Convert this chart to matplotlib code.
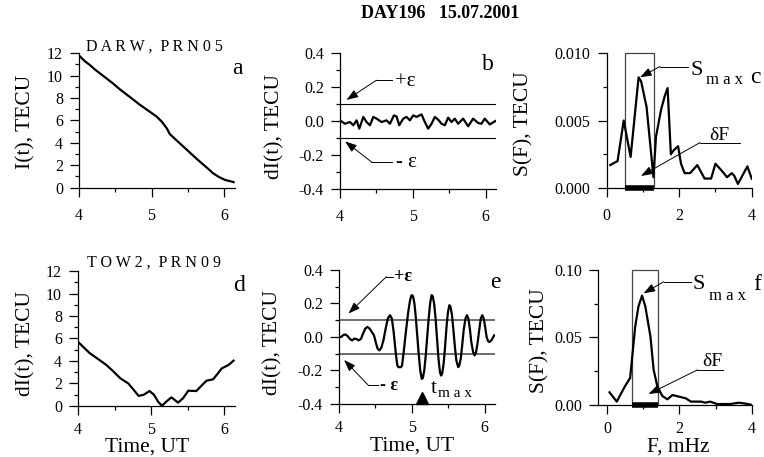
import matplotlib

matplotlib.use("Agg")

import matplotlib.pyplot as plt
from matplotlib.patches import Rectangle
from matplotlib.ticker import FixedLocator, FormatStrFormatter

plt.rcParams["font.family"] = ["Liberation Serif", "DejaVu Serif"]
plt.rcParams["axes.unicode_minus"] = False

# --- données ---
# a : TEC brut, DARW PRN05
time_a = [4.00, 4.08, 4.15, 4.22, 4.29, 4.38, 4.47, 4.56, 4.66, 4.75, 4.84,
          4.95, 5.07, 5.14, 5.21, 5.25, 5.34, 5.44, 5.55, 5.67, 5.76, 5.85,
          5.93, 6.01, 6.13]
tec_a = [11.8, 11.3, 10.95, 10.55, 10.2, 9.75, 9.3, 8.8, 8.3, 7.85, 7.4,
         6.9, 6.35, 5.9, 5.3, 4.8, 4.25, 3.66, 3.0, 2.3, 1.8, 1.28,
         0.95, 0.7, 0.5]

# b : variations filtrées DARW
time_b = [4.000, 4.068, 4.137, 4.183, 4.228, 4.265, 4.320, 4.365, 4.411, 4.457,
          4.502, 4.571, 4.639, 4.685, 4.740, 4.776, 4.813, 4.868, 4.913, 4.959,
          5.005, 5.050, 5.119, 5.164, 5.210, 5.256, 5.301, 5.347, 5.393, 5.438,
          5.484, 5.530, 5.575, 5.621, 5.689, 5.758, 5.826, 5.895, 5.941, 5.986,
          6.055, 6.132]
dtec_b = [0.004, -0.016, -0.006, -0.025, 0.004, -0.045, 0.024, -0.006, -0.025, 0.024,
          0.014, -0.006, 0.004, -0.016, 0.033, 0.027, -0.025, 0.014, 0.024, 0.004,
          0.033, 0.024, 0.039, -0.006, -0.045, -0.016, 0.024, 0.008, -0.016, -0.025,
          0.020, -0.006, 0.014, -0.016, 0.014, -0.031, 0.014, -0.012, -0.016, 0.014,
          -0.020, 0.000]

# c : spectre DARW
freq_c = [0.1, 0.3, 0.47, 0.66, 0.88, 0.95, 1.1, 1.29, 1.36, 1.5, 1.6, 1.68,
          1.77, 1.85, 1.97, 2.05, 2.15, 2.3, 2.5, 2.7, 2.88, 3.0, 3.2, 3.32,
          3.45, 3.52, 3.62, 3.88, 4.0]
spec_c = [0.0017, 0.0020, 0.0050, 0.0023, 0.0082, 0.0079, 0.0060, 0.0008, 0.0038,
          0.0058, 0.0068, 0.0074, 0.0025, 0.0028, 0.0031, 0.0018, 0.0011, 0.0011,
          0.0017, 0.0007, 0.0007, 0.0018, 0.0012, 0.0008, 0.0011, 0.0009, 0.0003,
          0.0016, 0.0007]

# d : TEC brut, TOW2 PRN09
time_d = [4.00, 4.08, 4.16, 4.28, 4.39, 4.48, 4.58, 4.69, 4.76, 4.83, 4.90,
          4.98, 5.04, 5.10, 5.15, 5.22, 5.28, 5.37, 5.44, 5.51, 5.62, 5.69,
          5.76, 5.85, 5.91, 5.97, 6.06, 6.13]
tec_d = [5.7, 5.2, 4.7, 4.15, 3.64, 3.1, 2.46, 2.0, 1.45, 0.9, 1.0,
         1.33, 1.0, 0.35, 0.03, 0.45, 0.77, 0.3, 0.7, 1.36, 1.33, 1.8,
         2.25, 2.37, 2.85, 3.35, 3.64, 4.03]

# e : variations filtrées TOW2
time_e = [4.00, 4.03, 4.06, 4.09, 4.12, 4.15, 4.18, 4.21, 4.24, 4.27, 4.30,
          4.33, 4.36, 4.39, 4.42, 4.45, 4.48, 4.51, 4.53, 4.555, 4.58, 4.61,
          4.64, 4.67, 4.70, 4.725, 4.75, 4.775, 4.80, 4.815, 4.85, 4.865, 4.89,
          4.92, 4.95, 4.975, 4.995, 5.015, 5.035, 5.055, 5.075, 5.095, 5.115,
          5.135, 5.15, 5.17, 5.19, 5.21, 5.23, 5.25, 5.27, 5.285, 5.305, 5.325,
          5.345, 5.365, 5.385, 5.40, 5.415, 5.435, 5.455, 5.475, 5.495, 5.515,
          5.53, 5.55, 5.57, 5.59, 5.61, 5.635, 5.65, 5.67, 5.69, 5.71, 5.735,
          5.755, 5.775, 5.795, 5.815, 5.84, 5.86, 5.88, 5.90, 5.92, 5.945,
          5.965, 5.985, 6.005, 6.025, 6.045, 6.065, 6.09, 6.13]
dtec_e = [0.0, 0.0, 0.012, 0.015, 0.005, -0.012, -0.02, -0.01, -0.012, -0.02, -0.012,
          0.02, 0.05, 0.06, 0.05, 0.03, 0.01, -0.04, -0.07, -0.08, -0.065, -0.02,
          0.05, 0.11, 0.13, 0.11, 0.03, -0.08, -0.17, -0.18, -0.18, -0.17, -0.08,
          0.04, 0.15, 0.22, 0.25, 0.245, 0.2, 0.11, 0.0, -0.11, -0.2,
          -0.25, -0.245, -0.2, -0.11, 0.0, 0.11, 0.2, 0.25, 0.245, 0.2, 0.11,
          -0.01, -0.13, -0.21, -0.23, -0.22, -0.16, -0.06, 0.06, 0.15, 0.19,
          0.18, 0.13, 0.04, -0.06, -0.14, -0.18, -0.17, -0.13, -0.05, 0.04, 0.11,
          0.13, 0.11, 0.05, -0.03, -0.09, -0.11, -0.09, -0.04, 0.03, 0.11,
          0.13, 0.11, 0.06, 0.0, -0.025, -0.03, -0.02, 0.01]

# f : spectre TOW2
freq_f = [0.07, 0.27, 0.5, 0.64, 0.78, 0.87, 0.97, 1.06, 1.2, 1.29, 1.39,
          1.53, 1.67, 1.81, 1.99, 2.18, 2.32, 2.6, 2.72, 2.85, 3.05, 3.4,
          3.65, 3.9, 4.0]
spec_f = [0.0094, 0.0025, 0.014, 0.020, 0.058, 0.073, 0.081, 0.073, 0.051, 0.026, 0.014,
          0.0067, 0.0042, 0.0074, 0.0062, 0.0049, 0.0025, 0.0025, 0.0017, 0.0025, 0.0007,
          0.0007, 0.0017, 0.0007, 0.0]

epsilon = 0.1
band_c = (0.5, 1.3)
band_f = (0.7, 1.42)
t_max = 5.14

LINE_KW = dict(color="black", lw=1.6, solid_joinstyle="round")
ARROW = dict(arrowstyle="-|>,head_length=0.7,head_width=0.25", color="black",
             lw=0.7, mutation_scale=10, shrinkA=0, shrinkB=0)


def style_axes(ax, xlim, ylim, xmajor, xminor, ymajor, yminor, yfmt, xpad=8):
    ax.set_xlim(*xlim)
    ax.set_ylim(*ylim)
    for side in ("top", "right"):
        ax.spines[side].set_visible(False)
    for side in ("left", "bottom"):
        ax.spines[side].set_linewidth(0.9)
    ax.xaxis.set_major_locator(FixedLocator(xmajor))
    ax.xaxis.set_minor_locator(FixedLocator(xminor))
    ax.yaxis.set_major_locator(FixedLocator(ymajor))
    ax.yaxis.set_minor_locator(FixedLocator(yminor))
    ax.yaxis.set_major_formatter(FormatStrFormatter(yfmt))
    ax.tick_params(which="major", direction="out", length=6.5, width=0.9,
                   labelsize=11.5)
    ax.tick_params(which="minor", direction="out", length=3, width=0.9)
    ax.tick_params(axis="x", pad=xpad)
    ax.tick_params(axis="y", pad=5)
    ax.patch.set_visible(False)


def knee_label(ax, tip, knee, end):
    ax.plot([knee[0], end[0]], [knee[1], knee[1]], color="black", lw=0.7,
            clip_on=False)
    ax.annotate("", xy=tip, xytext=knee, arrowprops=ARROW, annotation_clip=False)


fig = plt.figure(figsize=(7.64, 4.57), dpi=100)
fig.text(0.576, 0.971, "DAY196   15.07.2001", ha="center", va="center",
         fontsize=13, fontweight="bold")

ax_a = fig.add_axes([0.1034, 0.5893, 0.2042, 0.2941])
ax_b = fig.add_axes([0.4450, 0.5864, 0.2042, 0.2976])
ax_c = fig.add_axes([0.7941, 0.5886, 0.1898, 0.2954])
ax_d = fig.add_axes([0.1021, 0.1116, 0.2055, 0.2954])
ax_e = fig.add_axes([0.4437, 0.1160, 0.2042, 0.2932])
ax_f = fig.add_axes([0.7831, 0.1138, 0.2008, 0.2954])

tec_major = [0, 2, 4, 6, 8, 10, 12]
tec_minor = [1, 3, 5, 7, 9, 11]
d_major = [-0.4, -0.2, 0.0, 0.2, 0.4]
d_minor = [-0.3, -0.1, 0.1, 0.3]

# a
style_axes(ax_a, (4, 6.15), (0, 12), [4, 5, 6], [4.5, 5.5], tec_major, tec_minor, "%d")
ax_a.plot(time_a, tec_a, **LINE_KW)
ax_a.set_ylabel("I(t), TECU", fontsize=15.5)
ax_a.yaxis.set_label_coords(-0.282, 0.49)
ax_a.text(0.484, 1.047, "D A R W ,  P R N 0 5", transform=ax_a.transAxes,
          ha="center", va="center", fontsize=11.5)

# b
style_axes(ax_b, (4, 6.14), (-0.4, 0.4), [4, 5, 6], [4.5, 5.5], d_major, d_minor, "%.1f")
ax_b.axhline(epsilon, color="black", lw=0.8)
ax_b.axhline(-epsilon, color="black", lw=0.8)
ax_b.plot(time_b, dtec_b, **LINE_KW)
ax_b.set_ylabel("dI(t), TECU", fontsize=15.5)
ax_b.yaxis.set_label_coords(-0.353, 0.46)
knee_label(ax_b, (4.09, 0.124), (4.5, 0.24), (4.71, 0.24))
ax_b.text(4.76, 0.235, "+ε", ha="left", va="center", fontsize=15)
knee_label(ax_b, (4.07, -0.12), (4.43, -0.24), (4.72, -0.24))
ax_b.text(4.77, -0.245, "- ε", ha="left", va="center", fontsize=15)

# c
style_axes(ax_c, (0, 4), (0, 0.010), [0, 2, 4], [1, 3],
           [0, 0.005, 0.010], [0.0025, 0.0075], "%.3f")
ax_c.add_patch(Rectangle((band_c[0], 0), band_c[1] - band_c[0], 0.010,
                         fill=False, ec="#444444", lw=0.9, clip_on=False))
ax_c.plot(band_c, [0, 0], color="black", lw=4, solid_capstyle="butt", clip_on=False)
ax_c.plot(freq_c, spec_c, **LINE_KW)
ax_c.set_ylabel("S(F), TECU", fontsize=15.5)
ax_c.yaxis.set_label_coords(-0.506, 0.48)
knee_label(ax_c, (0.92, 0.0082), (1.47, 0.0090), (2.25, 0.0090))
ax_c.text(2.3, 0.0087, "S", ha="left", va="center", fontsize=16)
ax_c.text(2.75, 0.0080, "m a x", ha="left", va="center", fontsize=12)
ax_c.plot([2.57, 3.67], [0.00336, 0.00336], color="black", lw=0.7, clip_on=False)
ax_c.annotate("", xy=(0.945, 0.00089), xytext=(2.57, 0.00336), arrowprops=ARROW)
ax_c.text(3.12, 0.0039, "δF", ha="center", va="center", fontsize=14)

# d
style_axes(ax_d, (4, 6.15), (0, 12), [4, 5, 6], [4.5, 5.5], tec_major, tec_minor,
           "%d", xpad=5)
ax_d.plot(time_d, tec_d, **LINE_KW)
ax_d.set_ylabel("dI(t), TECU", fontsize=15.5)
ax_d.yaxis.set_label_coords(-0.274, 0.46)
ax_d.set_xlabel("Time, UT", fontsize=15.5)
ax_d.xaxis.set_label_coords(0.443, -0.235)
ax_d.text(0.481, 1.059, "T O W 2 ,  P R N 0 9", transform=ax_d.transAxes,
          ha="center", va="center", fontsize=11.5)

# e
style_axes(ax_e, (4, 6.14), (-0.4, 0.4), [4, 5, 6], [4.5, 5.5], d_major, d_minor,
           "%.1f", xpad=5)
ax_e.axhline(epsilon, color="#555555", lw=1.2)
ax_e.axhline(-epsilon, color="#555555", lw=1.2)
ax_e.plot(time_e, dtec_e, **LINE_KW)
ax_e.set_ylabel("dI(t), TECU", fontsize=15.5)
ax_e.yaxis.set_label_coords(-0.359, 0.46)
ax_e.set_xlabel("Time, UT", fontsize=15.5)
ax_e.xaxis.set_label_coords(0.466, -0.24)
knee_label(ax_e, (4.13, 0.14), (4.65, 0.36), (4.74, 0.36))
ax_e.text(4.76, 0.36, "+ε", ha="left", va="center", fontsize=13, fontweight="bold")
knee_label(ax_e, (4.07, -0.137), (4.4, -0.287), (4.54, -0.287))
ax_e.text(4.56, -0.29, "- ε", ha="left", va="center", fontsize=13, fontweight="bold")
ax_e.plot([t_max], [-0.367], marker="^", ms=9, color="black", clip_on=False, zorder=5)
ax_e.text(5.26, -0.305, "t", ha="left", va="center", fontsize=15)
ax_e.text(5.36, -0.34, "m a x", ha="left", va="center", fontsize=11)

# f
style_axes(ax_f, (-0.24, 4), (0, 0.10), [0, 2, 4], [1, 3],
           [0, 0.05, 0.10], [0.025, 0.075], "%.2f", xpad=5)
ax_f.add_patch(Rectangle((band_f[0], 0), band_f[1] - band_f[0], 0.10,
                         fill=False, ec="#444444", lw=0.9, clip_on=False))
ax_f.plot(band_f, [0, 0], color="black", lw=4, solid_capstyle="butt", clip_on=False)
ax_f.plot(freq_f, spec_f, **LINE_KW)
ax_f.set_ylabel("S(F), TECU", fontsize=15.5)
ax_f.yaxis.set_label_coords(-0.315, 0.48)
ax_f.set_xlabel("F, mHz", fontsize=15.5)
ax_f.xaxis.set_label_coords(0.52, -0.24)
knee_label(ax_f, (1.01, 0.0827), (1.57, 0.0913), (2.32, 0.0913))
ax_f.text(2.36, 0.089, "S", ha="left", va="center", fontsize=16)
ax_f.text(2.82, 0.081, "m a x", ha="left", va="center", fontsize=12)
ax_f.plot([2.5, 3.2], [0.026, 0.026], color="black", lw=0.7, clip_on=False)
ax_f.annotate("", xy=(1.15, 0.0081), xytext=(2.5, 0.026), arrowprops=ARROW)
ax_f.text(2.9, 0.032, "δF", ha="center", va="center", fontsize=14)

# lettres des panneaux
for ax, letter, x, y in [(ax_a, "a", 1.013, 0.89), (ax_b, "b", 0.949, 0.912),
                         (ax_c, "c", 1.023, 0.822), (ax_d, "d", 1.025, 0.896),
                         (ax_e, "e", 1.0, 0.91), (ax_f, "f", 1.035, 0.889)]:
    ax.text(x, y, letter, transform=ax.transAxes, ha="center", va="center",
            fontsize=17)

fig.savefig("out.png", dpi=100)
